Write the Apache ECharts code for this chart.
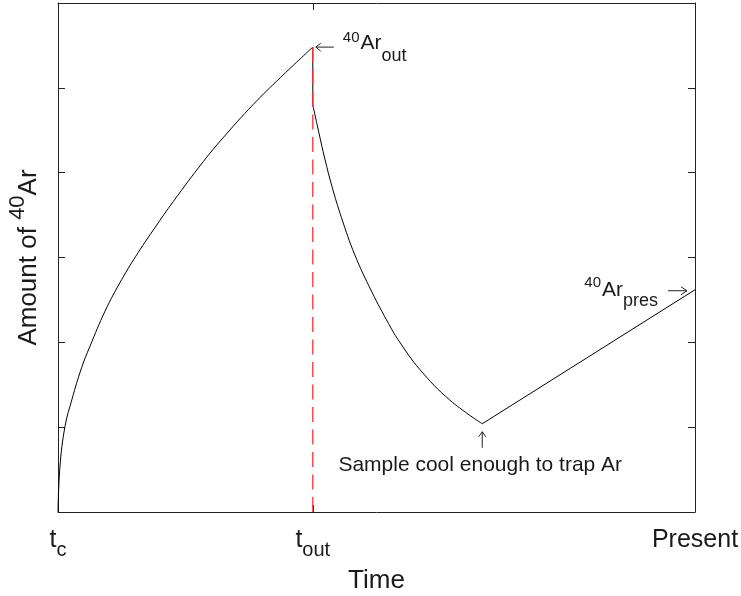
<!DOCTYPE html>
<html>
<head>
<meta charset="utf-8">
<script src="https://cdn.jsdelivr.net/npm/echarts@6/dist/echarts.min.js"></script>
<style>
  html, body { margin: 0; padding: 0; background: #fff; }
  #chart { width: 741px; height: 596px; }
</style>
</head>
<body>
<div id="chart"></div>
<script>
// Radiogenic 40Ar build-up from crystallisation (t_c) to the outgassing event (t_out)
const riseX = [0, 0.03, 0.11, 0.22, 0.37, 0.50, 0.74, 1.00, 1.26, 1.52, 1.81, 2.28, 2.59, 3.06, 3.49, 4.00];
const riseY = [0, 0.53, 1.01, 1.33, 1.70, 1.95, 2.37, 2.74, 3.06, 3.35, 3.66, 4.13, 4.41, 4.80, 5.12, 5.48];

// Instant loss at t_out
const outX = 4;
const outTopY = 5.48;
const outBottomY = 4.80;

// Continued diffusive loss until the sample is cool enough to trap Ar
const decayX = [4.00, 4.09, 4.19, 4.30, 4.45, 4.66, 4.93, 5.19, 5.34, 5.68, 6.15, 6.66];
const decayY = [4.80, 4.49, 4.16, 3.84, 3.47, 3.03, 2.59, 2.22, 2.03, 1.68, 1.32, 1.04];

// Accumulation again up to the present day
const presX = 10;
const presY = 2.62;

// Axis ticks and labels
const xLabelValues = [0, 4, 10];
const xLabelTexts = ['{t|t}{s|c}', '{t|t}{s|out}', '{p|Present}'];
const xTickValues = [4];
const yTickStep = 1;
const yMax = 6;

const FONT = 'Liberation Sans, Arial, Helvetica, sans-serif';
const INK = '#1a1a1a';

const pairs = (xs, ys) => xs.map((x, i) => [x, ys[i]]);
const lastDecay = [decayX[decayX.length - 1], decayY[decayY.length - 1]];

const chart = echarts.init(document.getElementById('chart'), null, { renderer: 'canvas' });

const frameAxis = {
  type: 'value',
  min: 0,
  axisLine: { show: true, onZero: false, lineStyle: { color: '#222', width: 1 } },
  splitLine: { show: false }
};

const blackLine = { color: '#000', width: 1 };

chart.setOption({
  animation: false,
  backgroundColor: '#fff',
  textStyle: { fontFamily: FONT, color: INK },
  grid: { left: 58, right: 46, top: 3, bottom: 84, containLabel: false, outerBoundsMode: 'none' },
  xAxis: [
    Object.assign({}, frameAxis, {
      position: 'bottom',
      max: presX,
      name: 'Time',
      nameLocation: 'middle',
      nameGap: 56,
      nameTextStyle: { fontSize: 26, color: INK, fontFamily: FONT },
      axisTick: { show: true, inside: true, length: 7, customValues: xTickValues, lineStyle: { color: '#222' } },
      axisLabel: {
        show: true,
        margin: 8,
        customValues: xLabelValues,
        formatter: (v) => {
          const i = xLabelValues.indexOf(v);
          return i >= 0 ? xLabelTexts[i] : '';
        },
        rich: {
          t: { fontSize: 25, lineHeight: 40, fontFamily: FONT, color: INK },
          s: { fontSize: 20, lineHeight: 11, verticalAlign: 'bottom', fontFamily: FONT, color: INK },
          p: { fontSize: 25, lineHeight: 40, fontFamily: FONT, color: INK }
        }
      }
    }),
    Object.assign({}, frameAxis, {
      position: 'top',
      max: presX,
      axisTick: { show: true, inside: true, length: 7, customValues: xTickValues, lineStyle: { color: '#222' } },
      axisLabel: { show: false }
    })
  ],
  yAxis: [
    Object.assign({}, frameAxis, {
      position: 'left',
      max: yMax,
      interval: yTickStep,
      axisTick: { show: true, inside: true, length: 7, lineStyle: { color: '#222' } },
      axisLabel: { show: false }
    }),
    Object.assign({}, frameAxis, {
      position: 'right',
      max: yMax,
      interval: yTickStep,
      axisTick: { show: true, inside: true, length: 7, lineStyle: { color: '#222' } },
      axisLabel: { show: false }
    })
  ],
  series: [
    { type: 'line', name: 'rise', data: pairs(riseX, riseY), smooth: 0.4, symbol: 'none', lineStyle: blackLine, z: 2 },
    { type: 'line', name: 'loss', data: [[outX, outTopY], [outX, outBottomY]], symbol: 'none', lineStyle: blackLine, z: 2 },
    { type: 'line', name: 'decay', data: pairs(decayX, decayY), smooth: 0.4, symbol: 'none', lineStyle: blackLine, z: 2 },
    { type: 'line', name: 'recovery', data: [lastDecay, [presX, presY]], symbol: 'none', lineStyle: blackLine, z: 2 },
    {
      type: 'line', name: 't_out', data: [[outX, outTopY], [outX, 0]], symbol: 'none', z: 3,
      lineStyle: { color: '#ff3030', width: 1.3, type: [15, 7.5] }
    }
  ]
});

// Text with super/subscripts: parts laid out along a baseline, each shifted by its rise
const measureCtx = document.createElement('canvas').getContext('2d');
function textWidth(text, size) {
  measureCtx.font = size + 'px ' + FONT;
  return measureCtx.measureText(text).width;
}
function scriptText(x, y, parts, align, rotation) {
  const widths = parts.map((p) => textWidth(p.text, p.size));
  const gaps = parts.map((p) => p.gap || 0);
  const total = widths.reduce((a, b) => a + b, 0) + gaps.reduce((a, b) => a + b, 0);
  let cursor = align === 'left' ? 0 : align === 'right' ? -total : -total / 2;
  const children = parts.map((p, i) => {
    cursor += gaps[i];
    const el = {
      type: 'text', x: cursor, y: -(p.rise || 0) - 0.35 * p.size,
      style: { text: p.text, fontSize: p.size, fontFamily: FONT, fill: INK, align: 'left', verticalAlign: 'middle' }
    };
    cursor += widths[i];
    return el;
  });
  return { type: 'group', x, y, rotation: rotation || 0, z: 10, children };
}

// Annotations anchored to data points through the grid's coordinate system
const toPx = (pt) => chart.convertToPixel({ xAxisIndex: 0, yAxisIndex: 0 }, pt);

function arrow(tip, dir, len, head, half) {
  const [tx, ty] = tip;
  const [dx, dy] = dir;
  const px = -dy, py = dx;
  const bx = tx - dx * head, by = ty - dy * head;
  return [
    { type: 'line', shape: { x1: tx - dx * len, y1: ty - dy * len, x2: tx, y2: ty }, style: { stroke: '#222', lineWidth: 1 }, z: 10 },
    { type: 'polyline', shape: { points: [[bx + px * half, by + py * half], [tx, ty], [bx - px * half, by - py * half]] }, style: { stroke: '#222', fill: null, lineWidth: 1 }, z: 10 }
  ];
}

const peak = toPx([outX, outTopY]);
const pres = toPx([presX, presY]);
const trap = toPx(lastDecay);
const gridTop = toPx([0, yMax])[1];
const gridBottom = toPx([0, 0])[1];

const elements = []
  .concat(arrow([peak[0] + 3, peak[1]], [-1, 0], 18, 5, 4))
  .concat(arrow([pres[0] - 8, pres[1] + 1], [1, 0], 19, 6, 4))
  .concat(arrow([trap[0], trap[1] + 8], [0, -1], 16, 5, 3.5))
  .concat([
    scriptText(peak[0] + 30, peak[1] + 3.5, [
      { text: '40', size: 15, rise: 8 },
      { text: 'Ar', size: 21, gap: 1 },
      { text: 'out', size: 18, rise: -12 }
    ], 'left'),
    scriptText(pres[0] - 37, pres[1] + 7.5, [
      { text: '40', size: 15, rise: 9 },
      { text: 'Ar', size: 21, gap: 1 },
      { text: 'pres', size: 18, rise: -10 }
    ], 'right'),
    {
      type: 'text', x: trap[0] - 2, y: trap[1] + 41, z: 10,
      style: { text: 'Sample cool enough to trap Ar', fontSize: 21, fontFamily: FONT, fill: INK, align: 'center', verticalAlign: 'middle' }
    },
    // Vertical axis title
    scriptText(38, (gridTop + gridBottom) / 2, [
      { text: 'Amount of ', size: 26 },
      { text: '40', size: 22, rise: 12 },
      { text: 'Ar', size: 26 }
    ], 'center', Math.PI / 2)
  ]);

chart.setOption({ graphic: { elements } });
</script>
</body>
</html>
